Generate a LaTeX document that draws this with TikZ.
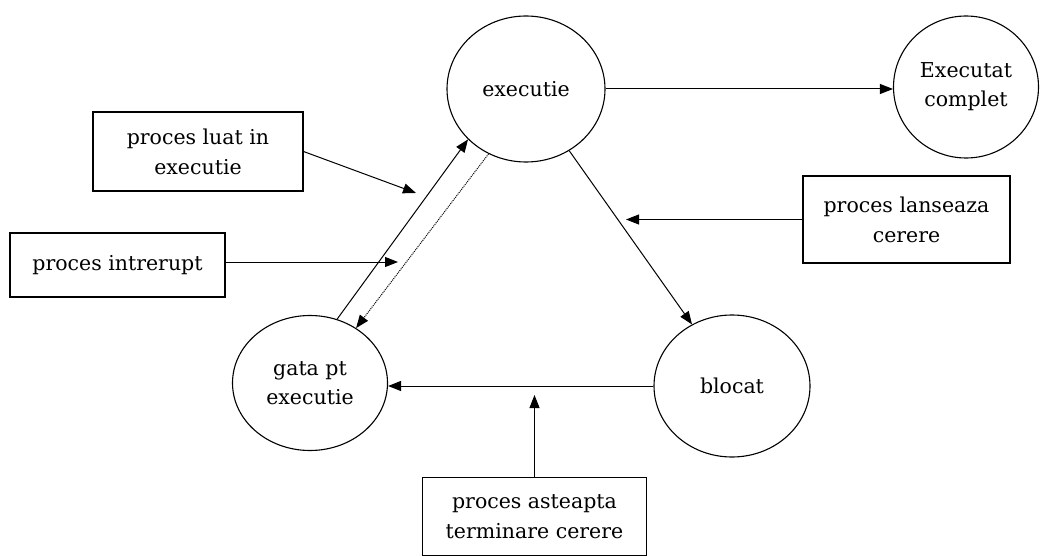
\documentclass[tikz,border=0pt]{standalone}
\usepackage{fontspec}
\setmainfont{DejaVu Serif}
\usetikzlibrary{shapes.geometric,arrows.meta}
\tikzset{
    stare/.style={ellipse, draw, line width=1.1pt, inner sep=0pt, align=center, font=\fontsize{20.5}{29}\selectfont},
    cutie/.style={rectangle, draw, line width=1.1pt, inner sep=0pt, align=center, font=\fontsize{20.5}{30}\selectfont},
    sageata/.style={-{Triangle[length=13pt,width=10pt]}, line width=1pt}
}
\begin{document}
\begin{tikzpicture}[x=1pt,y=-1pt]
                    \useasboundingbox (0,0) rectangle (1041,556);
                    \node[stare, minimum width=158pt, minimum height=146pt] (exec) at (526,89) {executie};
                    \node[stare, minimum width=145pt, minimum height=142pt] (complet) at (966,87) {Executat\\complet};
                    \node[stare, minimum width=155pt, minimum height=135pt] (gata) at (310,383) {gata pt\\executie};
                    \node[stare, minimum width=156pt, minimum height=142pt] (blocat) at (732,386) {blocat};
                    
                    \node[cutie, minimum width=210pt, minimum height=79pt] (luat) at (198,151.5) {proces luat in\\executie};
                    \node[cutie, minimum width=215pt, minimum height=64pt] (intrerupt) at (117.5,265) {proces intrerupt};
                    \node[cutie, minimum width=207pt, minimum height=87pt] (lanseaza) at (906.5,219.5) {proces lanseaza\\cerere};
                    \node[cutie, minimum width=224pt, minimum height=78pt] (asteapta) at (534.5,516.5) {proces asteapta\\terminare cerere};
                    
                    \coordinate (pLuat) at (416,193);
                    \coordinate (pIntrerupt) at (398,262);
                    \coordinate (pLanseaza) at (626,218);
                    \coordinate (pAsteapta) at (534.5,395);
                    
                    \draw[sageata] (exec.east) -- (exec.east -| complet.west);
                    \draw[sageata] (exec.305.8) -- (blocat.123.3);
                    \draw[sageata] (blocat.west) -- (blocat.west -| gata.east);
                    \draw[sageata] (gata.67.6) -- (exec.221.3);
                    \draw[sageata, densely dotted] (exec.240.3) -- (gata.50.2);
                    
                    \draw[sageata] (luat.east) -- (pLuat);
                    \draw[sageata] (intrerupt.east |- pIntrerupt) -- (pIntrerupt);
                    \draw[sageata] (lanseaza.west) -- (lanseaza.west -| pLanseaza);
                    \draw[sageata] (asteapta.north) -- (pAsteapta);
                \end{tikzpicture}
\end{document}
